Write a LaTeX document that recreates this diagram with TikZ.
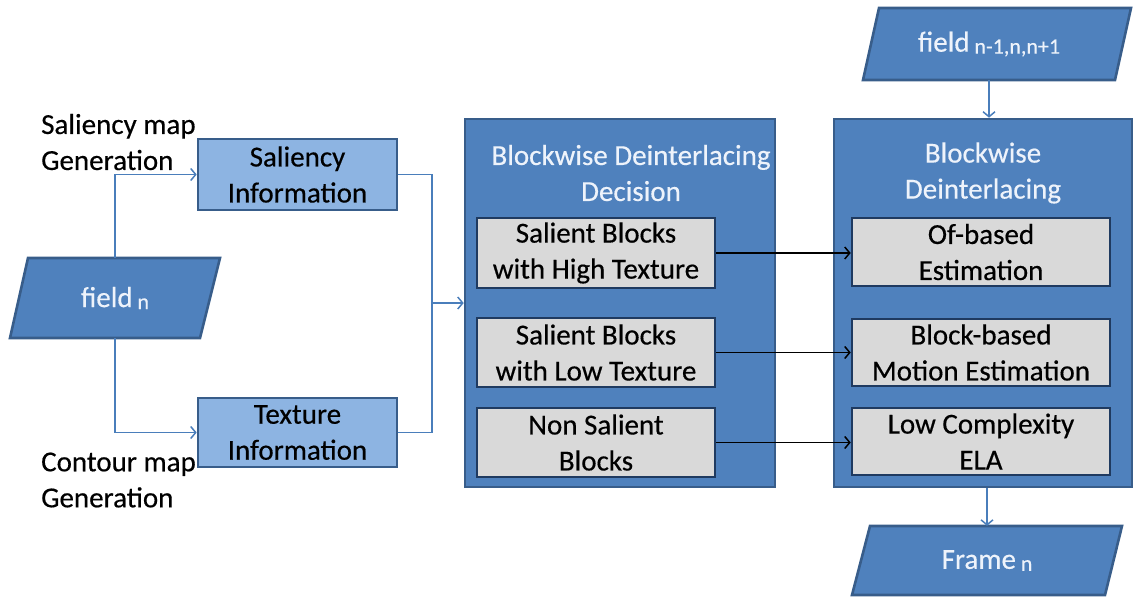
\documentclass[tikz,border=0pt]{standalone}
\usepackage{fontspec}
\setmainfont{Carlito}[BoldFont=Carlito, BoldFeatures={FakeBold=0.4}]
\usetikzlibrary{arrows.meta}
\definecolor{dkfill}{HTML}{4F81BD}
\definecolor{dkline}{HTML}{385D8A}
\definecolor{ltfill}{HTML}{8DB4E2}
\definecolor{grfill}{HTML}{D9D9D9}
\definecolor{navy}{HTML}{1F3A60}
\definecolor{conn}{HTML}{4A7EBB}
\definecolor{ttl}{HTML}{EEF3FB}
\newcommand{\sub}[1]{\raisebox{-2pt}{\fontsize{22}{22}\selectfont #1}}
\begin{document}
\begin{tikzpicture}[x=1pt,y=-1pt,
  txt/.style={font=\fontsize{29}{36}\selectfont\bfseries, align=center, text=black},
  infobox/.style={txt, draw=dkline, fill=ltfill, line width=2.6pt, inner sep=0pt},
  bigbox/.style={draw=dkline, fill=dkfill, line width=2.6pt, inner sep=0pt},
  graybox/.style={txt, draw=navy, fill=grfill, line width=2.6pt, inner sep=0pt},
  paraf/.style={draw=dkline, fill=dkfill, line width=2.6pt, line join=miter},
  ptext/.style={font=\fontsize{29}{36}\selectfont\bfseries, text=ttl, inner sep=0pt},
  title/.style={font=\fontsize{29}{36}\selectfont\bfseries, align=center, text=ttl},
  lbl/.style={font=\fontsize{29}{36}\selectfont\bfseries, align=left, anchor=west, inner sep=0pt},
  conline/.style={draw=conn, line width=1.5pt},
  bluearrow/.style={conline, -{Straight Barb[length=5pt,width=12pt,line width=1.5pt]}},
  blackarrow/.style={draw=black, line width=1.5pt, -{Straight Barb[length=5pt,width=12pt,line width=1.5pt]}}
]
\useasboundingbox (0,0) rectangle (1134,599);

% input field
\draw[paraf] (28,258) -- (220,258) -- (200,338) -- (10,338) -- cycle;
\node[ptext, minimum height=80pt] (fn) at (115,298) {field\,\sub{n}};

% side labels
\node[lbl] (lsal) at (41,142) {Saliency map\\Generation};
\node[lbl] (lcon) at (41,480) {Contour map\\Generation};

% information boxes
\node[infobox, minimum width=199pt, minimum height=71pt] (sal) at (297.5,174.5) {Saliency\\Information};
\node[infobox, minimum width=199pt, minimum height=69pt] (tex) at (297.5,432.5) {Texture\\Information};

% decision block
\node[bigbox, minimum width=310pt, minimum height=368pt] (dec) at (620,303) {};
\node[title] (dect) at (631,173) {Blockwise Deinterlacing\\Decision};
\node[graybox, minimum width=238pt, minimum height=70pt] (lb1) at (596,253) {Salient Blocks\\with High Texture};
\node[graybox, minimum width=238pt, minimum height=69pt] (lb2) at (596,352.5) {Salient Blocks\\with Low Texture};
\node[graybox, minimum width=238pt, minimum height=69pt] (lb3) at (596,442.5) {Non Salient\\Blocks};

% deinterlacing block
\node[bigbox, minimum width=298pt, minimum height=368pt] (din) at (983,303) {};
\node[title] (dint) at (983,173) {Blockwise\\Deinterlacing};
\node[graybox, minimum width=258pt, minimum height=68pt] (rb1) at (981,252) {Of-based\\Estimation};
\node[graybox, minimum width=258pt, minimum height=67pt] (rb2) at (981,352.5) {Block-based\\Motion Estimation};
\node[graybox, minimum width=258pt, minimum height=67pt] (rb3) at (981,441.5) {Low Complexity\\ELA};

% neighbouring fields and output frame
\draw[paraf] (879,8) -- (1131,8) -- (1115,80) -- (863,80) -- cycle;
\node[ptext, minimum height=72pt] (ftop) at (989,44) {field\,\sub{n-1,n,n+1}};
\draw[paraf] (870,526) -- (1122,526) -- (1105,595) -- (852,595) -- cycle;
\node[ptext, minimum height=69pt] (frm) at (987,560.5) {Frame\,\sub{n}};

% connectors
\draw[bluearrow] (fn.north) |- (sal.west);
\draw[bluearrow] (fn.south) |- (tex.west);
\coordinate (jn) at (432,303);
\draw[conline] (sal.east) -| (jn);
\draw[conline] (tex.east) -| (jn);
\draw[bluearrow] (jn) -- (dec.west);
\draw[bluearrow] (ftop.south) -- (ftop.south |- din.north);
\draw[bluearrow] (frm.north |- din.south) -- (frm.north);
\draw[blackarrow] (lb1.east) -- (lb1.east -| rb1.west);
\draw[blackarrow] (lb2.east) -- (lb2.east -| rb2.west);
\draw[blackarrow] (lb3.east) -- (lb3.east -| rb3.west);
\end{tikzpicture}
\end{document}
